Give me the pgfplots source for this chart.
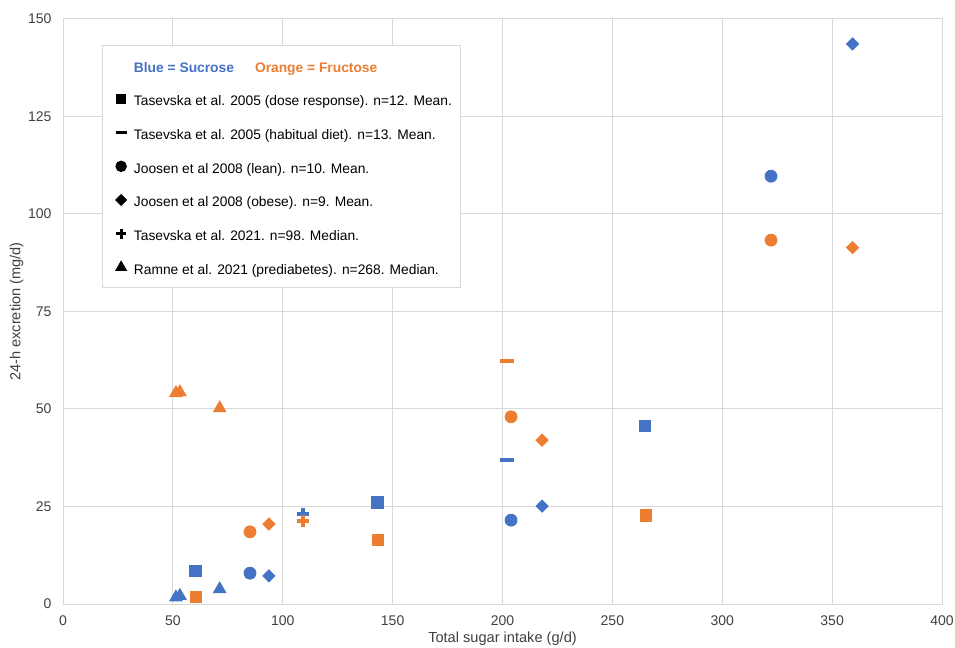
\documentclass[border=0pt]{standalone}
\usepackage{pgfplots}
\pgfplotsset{compat=1.18}
\usepackage{fontspec}
\setmainfont{Liberation Sans}
\definecolor{sucrose}{HTML}{4472C4}
\definecolor{fructose}{HTML}{ED7D31}
\definecolor{gridgray}{HTML}{D9D9D9}
\definecolor{ticktext}{HTML}{404040}
\begin{document}
\begin{tikzpicture}
\begin{axis}[
  name=ax,
  scale only axis, width=439.5pt, height=292.5pt,
  xmin=0, xmax=400, ymin=0, ymax=150,
  xtick={0,50,...,400}, ytick={0,25,...,150},
  grid=major, grid style={gridgray, line width=0.5pt},
  axis line style={gridgray, line width=0.5pt},
  major tick length=0pt,
  /pgf/number format/assume math mode=true,
  tick label style={font=\fontsize{7}{8}\selectfont, text=ticktext},
  xticklabel style={yshift=-2.3pt},
  yticklabel style={xshift=-2.2pt},
  xlabel={Total sugar intake (g/d)},
  ylabel={24-h excretion (mg/d)},
  label style={font=\fontsize{7.3}{8}\selectfont, text=ticktext},
  xlabel style={at={(axis description cs:0.5,-0.0598)}, anchor=center},
  ylabel style={at={(axis description cs:-0.0529,0.5)}, anchor=center},
  legend cell align=left,
  legend style={at={(axis description cs:0.0444,0.9560)}, anchor=north west,
    draw=gridgray, line width=0.5pt, fill=white,
    font=\fontsize{6.9}{8}\selectfont,
    inner xsep=4.5pt, inner ysep=6.3pt,
    row sep=9.33pt, column sep=1.6pt,
    nodes={inner sep=0pt, text height=7.25pt, text depth=0.25pt}},
  legend image code/.code={\path (-4pt,0) (4pt,0); \draw[#1] plot coordinates {(0pt,0pt)};},
]
% ---- data (forget plot) ----
% Tasevska 2005 dose response: squares
\addplot[only marks, mark=square*, mark size=2.9pt, color=sucrose, forget plot] coordinates {(60.2,8.5) (143.2,26.1) (264.8,45.7)};
\addplot[only marks, mark=square*, mark size=2.9pt, color=fructose, forget plot] coordinates {(60.5,1.8) (143.3,16.4) (265.2,22.7)};
% Tasevska 2005 habitual diet: dashes
\addplot[only marks, mark=-, mark size=3.5pt, line width=2pt, color=sucrose, forget plot] coordinates {(202,36.9)};
\addplot[only marks, mark=-, mark size=3.5pt, line width=2pt, color=fructose, forget plot] coordinates {(202,62.3)};
% Joosen 2008 lean: circles
\addplot[only marks, mark=*, mark size=3pt, color=sucrose, forget plot] coordinates {(85.1,7.9) (203.9,21.5) (322.2,109.7)};
\addplot[only marks, mark=*, mark size=3pt, color=fructose, forget plot] coordinates {(85.1,18.5) (203.9,48.0) (322.2,93.3)};
% Joosen 2008 obese: diamonds
\addplot[only marks, mark=square*, mark size=2.15pt, mark options={rotate=45}, color=sucrose, forget plot] coordinates {(93.7,7.2) (218,25.1) (359.3,143.6)};
\addplot[only marks, mark=square*, mark size=2.15pt, mark options={rotate=45}, color=fructose, forget plot] coordinates {(93.7,20.5) (218,42.0) (359.3,91.4)};
% Tasevska 2021: plus
\addplot[only marks, mark=+, mark size=3pt, line width=1.6pt, color=sucrose, forget plot] coordinates {(109.2,23.1)};
\addplot[only marks, mark=+, mark size=3pt, line width=1.6pt, color=fructose, forget plot] coordinates {(109.2,21.3)};
% Ramne 2021: triangles
\addplot[only marks, mark=triangle*, mark size=3.6pt, color=sucrose, forget plot] coordinates {(51.4,1.7) (53.2,2.1) (71.3,3.8)};
\addplot[only marks, mark=triangle*, mark size=3.6pt, color=fructose, forget plot] coordinates {(51.4,54.1) (53.2,54.3) (71.3,50.2)};
% ---- legend ----
\addlegendimage{empty legend}
\addlegendentry{\textcolor{sucrose}{\bfseries Blue = Sucrose}\hspace{10.5pt}\textcolor{fructose}{\bfseries Orange = Fructose}}
\addlegendimage{only marks, mark=square*, mark size=2.4pt, black}
\addlegendentry{Tasevska et al. 2005 (dose response). n=12. Mean.}
\addlegendimage{only marks, mark=-, mark size=2.8pt, line width=1.6pt, black}
\addlegendentry{Tasevska et al. 2005 (habitual diet). n=13. Mean.}
\addlegendimage{only marks, mark=*, mark size=2.6pt, black}
\addlegendentry{Joosen et al 2008 (lean). n=10. Mean.}
\addlegendimage{only marks, mark=square*, mark size=1.9pt, mark options={rotate=45}, black}
\addlegendentry{Joosen et al 2008 (obese). n=9. Mean.}
\addlegendimage{only marks, mark=+, mark size=2.5pt, line width=1.4pt, black}
\addlegendentry{Tasevska et al. 2021. n=98. Median.}
\addlegendimage{only marks, mark=triangle*, mark size=3pt, black}
\addlegendentry{Ramne et al. 2021 (prediabetes). n=268. Median.}
\end{axis}
\pgfresetboundingbox
\path ([shift={(-31.5pt,-21.5pt)}]ax.south west) rectangle ([shift={(6.5pt,9.5pt)}]ax.north east);
\end{tikzpicture}
\end{document}
